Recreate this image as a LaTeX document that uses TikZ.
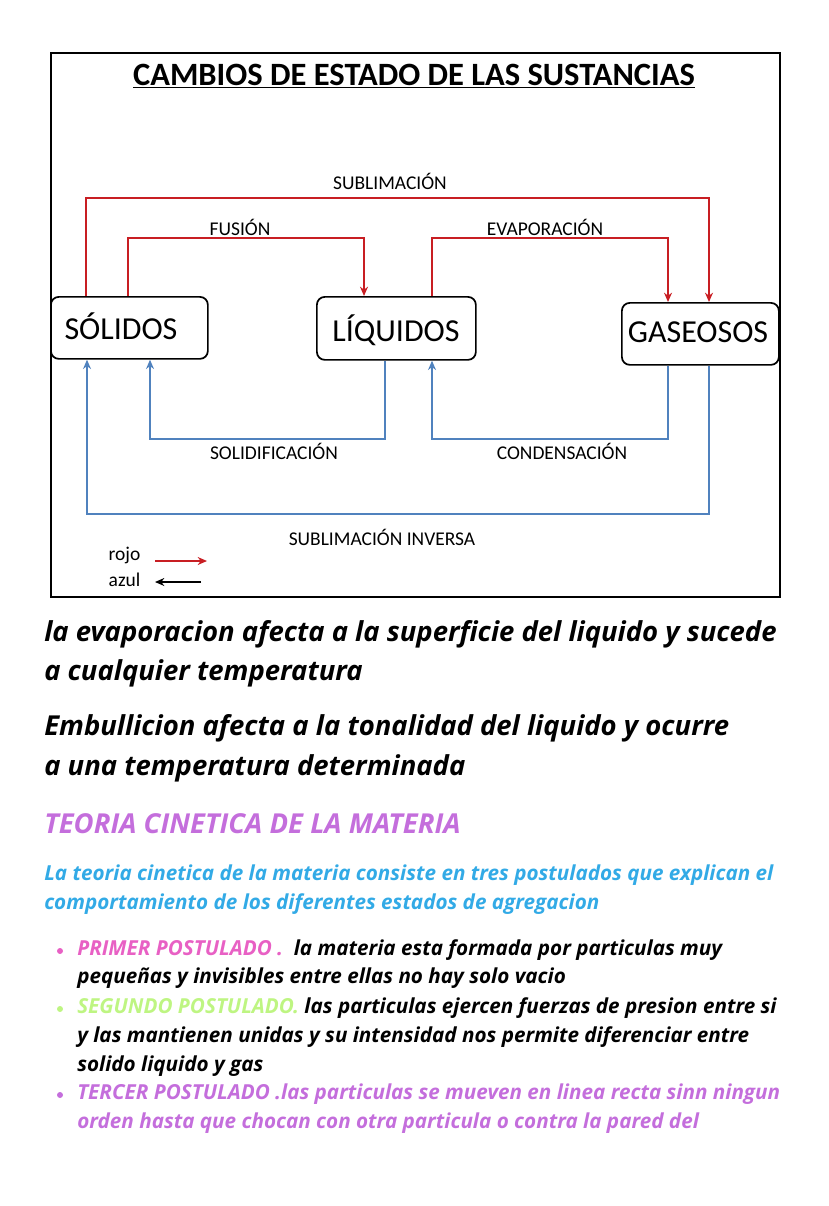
\documentclass[tikz,border=0pt]{standalone}
\usepackage{fontspec}
\setmainfont{Open Sans}
\newfontfamily\carl{Carlito}
\usetikzlibrary{arrows.meta}
\definecolor{rd}{RGB}{200,30,35}
\definecolor{bl}{RGB}{80,130,190}
\definecolor{pk}{RGB}{232,96,196}
\definecolor{vi}{RGB}{196,110,220}
\definecolor{cy}{RGB}{50,170,230}
\definecolor{gr}{RGB}{190,245,130}
\begin{document}
\begin{tikzpicture}[x=0.75pt,y=-0.75pt,
  st/.style={draw,line width=1.3pt,rounded corners=6pt,anchor=north west,inner sep=0pt},
  bx/.style={font=\carl\fontsize{24}{28}\selectfont},
  lb/.style={font=\carl\fontsize{14.6}{17}\selectfont},
  ra/.style={draw=rd,line width=1.1pt,-{Stealth[length=7pt,width=6pt]}},
  ba/.style={draw=bl,line width=1.1pt,-{Stealth[length=7pt,width=6pt]}},
  body/.style={anchor=west,font=\bfseries\itshape\fontsize{20.6}{24}\selectfont,inner sep=0pt},
  para/.style={anchor=west,text=cy,font=\bfseries\itshape\fontsize{15.5}{18}\selectfont,inner sep=0pt},
  bul/.style={anchor=west,font=\bfseries\itshape\fontsize{15.5}{18}\selectfont,inner sep=0pt}]
\useasboundingbox (0,0) rectangle (828,1206);
\node[draw,line width=1.5pt,minimum width=729*0.75pt,minimum height=544*0.75pt,anchor=north west,inner sep=0pt] (frame) at (50,52) {};
\node[font=\carl\bfseries\fontsize{24.4}{28}\selectfont] (title) at (414,76) {\underline{CAMBIOS DE ESTADO DE LAS SUSTANCIAS}};
\node[st,minimum width=157*0.75pt,minimum height=62*0.75pt] (S) at (50,296) {};
\node[bx] at (121,326) {SÓLIDOS};
\node[st,minimum width=159*0.75pt,minimum height=63*0.75pt] (L) at (316,296) {};
\node[bx] at (396,330) {LÍQUIDOS};
\node[st,minimum width=157*0.75pt,minimum height=62*0.75pt] (G) at (621,302) {};
\node[bx] at (698,332) {GASEOSOS};
% red
\draw[ra] (86,0 |- S.north) -- (86,198) -- (709,198) -- (709,0 |- G.north);
\draw[ra] (128,0 |- S.north) -- (128,238) -- (364,238) -- (364,0 |- L.north);
\draw[ra] (432,0 |- L.north) -- (432,238) -- (668,238) -- (668,0 |- G.north);
\node[lb] (sub) at (390,181) {SUBLIMACIÓN};
\node[lb] (fus) at (240,227) {FUSIÓN};
\node[lb] (eva) at (545,227) {EVAPORACIÓN};
% blue
\draw[ba] (385,0 |- L.south) -- (385,439) -- (150,439) -- (150,0 |- S.south);
\draw[ba] (668,0 |- G.south) -- (668,439) -- (432,439) -- (432,0 |- L.south);
\draw[ba] (709,0 |- G.south) -- (709,514) -- (87,514) -- (87,0 |- S.south);
\node[lb] (sol) at (274,451) {SOLIDIFICACIÓN};
\node[lb] (con) at (562,451) {CONDENSACIÓN};
\node[lb] (inv) at (382,537) {SUBLIMACIÓN INVERSA};
% legend
\node[lb,anchor=east] (rojo) at (145,555) {rojo};
\node[lb,anchor=east] (azul) at (145,580) {azul};
\coordinate (r1) at (155,561); \coordinate (r2) at (207,561);
\coordinate (a1) at (201,582); \coordinate (a2) at (155,582);
\draw[ra] (r1) -- (r2);
\draw[line width=1.1pt,-{Stealth[length=7pt,width=6pt]}] (a1) -- (a2);
% text
\node[body] (t1) at (44,634) {la evaporacion afecta a la superficie del liquido y sucede};
\node[body] (t2) at (44,673) {a cualquier temperatura};
\node[body] (t3) at (44,728) {Embullicion afecta a la tonalidad del liquido y ocurre};
\node[body] (t4) at (44,768) {a una temperatura determinada};
\node[body,text=vi] (t5) at (44,824) {TEORIA CINETICA DE LA MATERIA};
\node[para] (p1) at (44,875) {La teoria cinetica de la materia consiste en tres postulados que explican el};
\node[para] (p2) at (44,904) {comportamiento de los diferentes estados de agregacion};
\fill[pk] (60,951) circle (3);
\fill[gr] (60,1009) circle (3);
\fill[vi] (60,1095) circle (3);
\node[bul] (b1) at (77,950) {\textcolor{pk}{PRIMER POSTULADO .}\ \ la materia esta formada por particulas muy};
\node[bul] (b2) at (77,978) {pequeñas y invisibles entre ellas no hay solo vacio};
\node[bul] (b3) at (77,1008) {\textcolor{gr}{SEGUNDO POSTULADO.} las particulas ejercen fuerzas de presion entre si};
\node[bul] (b4) at (77,1037) {y las mantienen unidas y su intensidad nos permite diferenciar entre};
\node[bul] (b5) at (77,1066) {solido liquido y gas};
\node[bul,text=vi] (b6) at (77,1094) {TERCER POSTULADO .las particulas se mueven en linea recta sinn ningun};
\node[bul,text=vi] (b7) at (77,1123) {orden hasta que chocan con otra particula o contra la pared del};
\end{tikzpicture}
\end{document}
